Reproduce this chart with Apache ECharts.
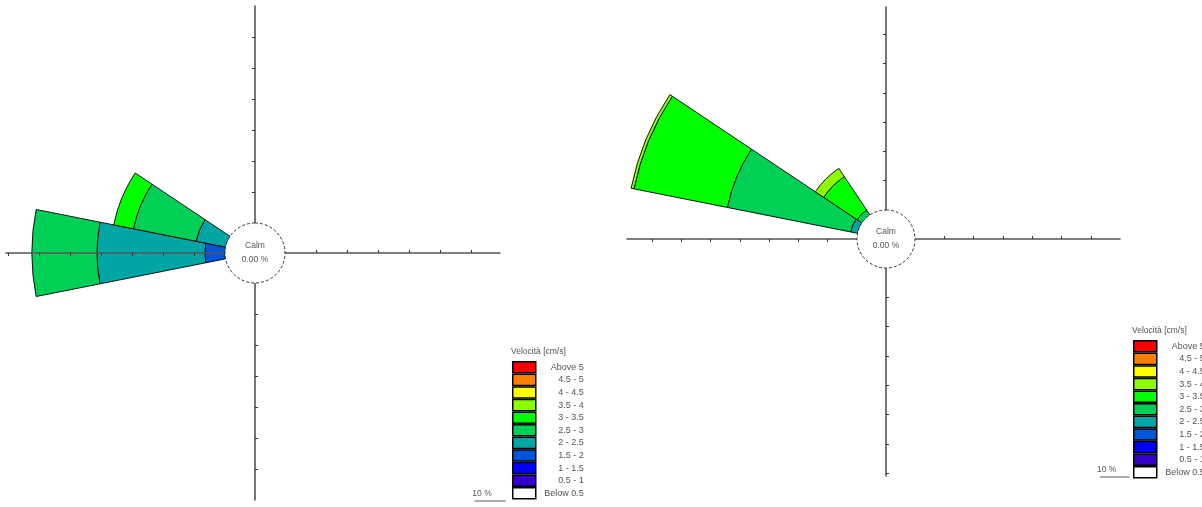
<!DOCTYPE html>
<html>
<head>
<meta charset="utf-8">
<script src="https://cdn.jsdelivr.net/npm/echarts@6/dist/echarts.min.js"></script>
<style>
  html, body { margin: 0; padding: 0; background: #fff; }
  #chart { width: 1202px; height: 507px; }
</style>
</head>
<body>
<div id="chart"></div>
<script>
// Compass sectors, clockwise from north
const directions = ['N','NNE','NE','ENE','E','ESE','SE','SSE','S','SSW','SW','WSW','W','WNW','NW','NNW'];

// Current-speed classes (cm/s), lowest first
const speedClasses = ['Below 0.5','0.5 - 1','1 - 1.5','1.5 - 2','2 - 2.5','2.5 - 3','3 - 3.5','3.5 - 4','4 - 4.5','4.5 - 5','Above 5'];
const classColors  = ['#ffffff','#3300cc','#0000ff','#0055dd','#00a6a6','#00d055','#00ff00','#8cff00','#ffff00','#ff8000','#ff0000'];

// Frequency (%) per speed class, for each populated sector
const roseA_W   = [0, 0, 0, 6.5, 34.8, 21.0, 0,    0,   0, 0, 0];
const roseA_WNW = [0, 0, 0, 0,   9.7,  20.6, 6.5,  0,   0, 0, 0];
const roseB_WNW = [0, 0, 0, 0,   2.4,  42.9, 32.5, 1.0, 0, 0, 0];
const roseB_NW  = [0, 0, 0, 0,   0,    2.0,  13.7, 3.4, 0, 0, 0];

// Calm share (%)
const calmA = 0.00;
const calmB = 0.00;

const legendTitle = 'Velocità [cm/s]';
const scaleStep = 10;   // % per axis tick and per scale bar

const roses = [
  {
    center: [255, 253], inner: 30, pxPerPct: 3.1,
    arms: { right: 245, up: 247, left: 249, down: 247 },
    sectors: { W: roseA_W, WNW: roseA_WNW }, calm: calmA,
    legendPos: { left: 512, top: 361 }, titlePos: { left: 511, top: 347 },
    barPos: { left: 472, top: 489 }
  },
  {
    center: [886, 239], inner: 29, pxPerPct: 2.93,
    arms: { right: 234, up: 232, left: 259, down: 237 },
    sectors: { WNW: roseB_WNW, NW: roseB_NW }, calm: calmB,
    legendPos: { left: 1133, top: 340 }, titlePos: { left: 1132, top: 326 },
    barPos: { left: 1097, top: 465 }
  }
];

const polar = [], angleAxis = [], radiusAxis = [], series = [], legend = [], title = [], graphic = [];
const font = 'Liberation Sans, Arial, sans-serif';
const textGrey = '#555';
const swatchBorder = 1.5;

roses.forEach((rose, r) => {
  // data polar: 16 sectors, N at top, clockwise
  const dataMax = 80;
  const pIdx = polar.length;
  polar.push({ center: rose.center, radius: [rose.inner, rose.inner + dataMax * rose.pxPerPct] });
  angleAxis.push({
    polarIndex: pIdx, type: 'category', data: directions,
    startAngle: 90 + 360 / directions.length / 2, clockwise: true, boundaryGap: true,
    axisLine: { show: false }, axisTick: { show: false }, axisLabel: { show: false },
    splitLine: { show: false }, splitArea: { show: false }
  });
  radiusAxis.push({
    polarIndex: pIdx, type: 'value', min: 0, max: dataMax,
    axisLine: { show: false }, axisTick: { show: false }, axisLabel: { show: false },
    splitLine: { show: false }
  });

  speedClasses.forEach((cls, k) => {
    series.push({
      type: 'bar', coordinateSystem: 'polar', polarIndex: pIdx,
      name: cls, stack: 'rose' + r,
      barCategoryGap: '0%', z: 2,
      data: directions.map(d => {
        const v = rose.sectors[d] ? rose.sectors[d][k] : 0;
        return v > 0 ? v : null;
      }),
      itemStyle: { color: classColors[k], borderColor: '#000', borderWidth: 0.9 },
      emphasis: { disabled: true }, silent: true
    });
  });

  // cross axes: one radial arm per compass point, ticks every scaleStep %, drawn over the sectors
  const armDefs = [
    { key: 'right', angle: 0,   inside: false },
    { key: 'up',    angle: 90,  inside: false },
    { key: 'left',  angle: 180, inside: false },
    { key: 'down',  angle: 270, inside: true  }
  ];
  armDefs.forEach(a => {
    const len = rose.arms[a.key];
    const maxPct = (len - rose.inner) / rose.pxPerPct;
    const ticks = [];
    for (let t = scaleStep; t < maxPct - 0.5; t += scaleStep) ticks.push(t);
    const idx = polar.length;
    polar.push({ center: rose.center, radius: [rose.inner, len] });
    angleAxis.push({ polarIndex: idx, type: 'value', min: 0, max: 360, startAngle: a.angle, show: false });
    radiusAxis.push({
      polarIndex: idx, type: 'value', min: 0, max: maxPct, interval: scaleStep, z: 4,
      axisLine: { show: true, lineStyle: { color: '#555', width: 1.6 } },
      axisTick: { show: true, inside: a.inside, length: 3, customValues: ticks, lineStyle: { color: '#333', width: 1 } },
      axisLabel: { show: false }, splitLine: { show: false }
    });
  });

  // calm circle
  series.push({
    type: 'pie', center: rose.center, radius: [0, rose.inner],
    silent: true, emphasis: { disabled: true }, z: 5,
    stillShowZeroSum: true, labelLine: { show: false },
    data: [{ name: 'Calm', value: rose.calm }],
    itemStyle: { color: '#fff', borderColor: '#333', borderWidth: 1, borderType: [3, 2] },
    label: {
      show: true, position: 'center',
      formatter: 'Calm\n' + rose.calm.toFixed(2) + ' %',
      fontSize: 8.5, lineHeight: 14, color: textGrey, fontFamily: font
    }
  });

  legend.push({
    orient: 'vertical', left: rose.legendPos.left, top: rose.legendPos.top, padding: 0,
    height: 200, width: 90,
    itemWidth: 23, itemHeight: 12.6 - swatchBorder, itemGap: 0, icon: 'rect', selectedMode: false,
    data: speedClasses.slice().reverse(),
    itemStyle: { borderColor: '#000', borderWidth: swatchBorder },
    formatter: name => '{r|' + name + '}',
    textStyle: {
      fontSize: 9, color: textGrey, fontFamily: font,
      rich: { r: { width: 43, height: 11, lineHeight: 11, align: 'right', fontSize: 9, color: textGrey, fontFamily: font } }
    }
  });

  title.push({
    text: legendTitle, left: rose.titlePos.left, top: rose.titlePos.top, padding: 0,
    textStyle: { fontSize: 8.5, fontWeight: 'normal', color: textGrey, fontFamily: font }
  });

  const barLen = scaleStep * rose.pxPerPct;
  graphic.push({
    type: 'group', left: rose.barPos.left, top: rose.barPos.top, silent: true,
    children: [
      { type: 'text', x: barLen / 2 - 8, y: 0,
        style: { text: scaleStep + ' %', align: 'center', fontSize: 8.5, fill: textGrey, fontFamily: font } },
      { type: 'line', shape: { x1: 0, y1: 12, x2: barLen, y2: 12 },
        style: { stroke: '#555', lineWidth: 1 } }
    ]
  });
});

const chart = echarts.init(document.getElementById('chart'), null, { renderer: 'canvas' });
chart.setOption({
  animation: false,
  backgroundColor: '#fff',
  title, legend, polar, angleAxis, radiusAxis, series, graphic
});
</script>
</body>
</html>
